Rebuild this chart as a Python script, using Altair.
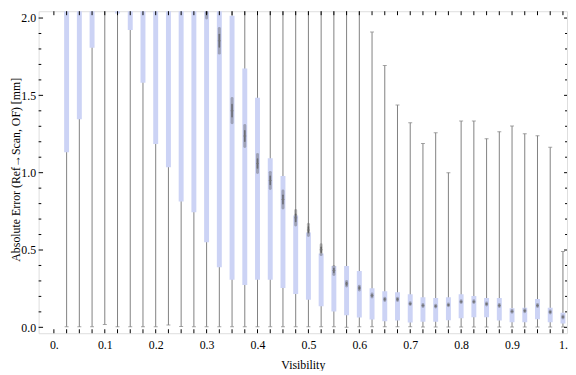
import altair as alt
import pandas as pd

# ---- data ----
visibility = [0.025, 0.05, 0.075, 0.1, 0.125, 0.15, 0.175, 0.2, 0.225, 0.25,
              0.275, 0.3, 0.325, 0.35, 0.375, 0.4, 0.425, 0.45, 0.475, 0.5,
              0.525, 0.55, 0.575, 0.6, 0.625, 0.65, 0.675, 0.7, 0.725, 0.75,
              0.775, 0.8, 0.825, 0.85, 0.875, 0.9, 0.925, 0.95, 0.975, 1.0]
whisker_low = [0.004, 0.003, 0.004, 0.019, 0.003, 0.003, 0.003, 0.004, 0.015, 0.005,
               0.004, 0.004, 0.004, 0.004, 0.004, 0.004, 0.004, 0.004, 0.004, 0.004,
               0.004, 0.004, 0.0, 0.004, 0.003, 0.003, 0.003, 0.003, 0.002, 0.002,
               0.002, 0.002, 0.002, 0.002, 0.002, 0.002, 0.002, 0.002, 0.002, 0.002]
q1 = [1.132, 1.346, 1.808, 2.10, 2.03, 1.922, 1.582, 1.185, 1.035, 0.813,
      0.744, 0.550, 0.389, 0.307, 0.273, 0.307, 0.307, 0.254, 0.216, 0.178,
      0.137, 0.103, 0.078, 0.063, 0.050, 0.040, 0.044, 0.032, 0.036, 0.036,
      0.046, 0.059, 0.065, 0.065, 0.044, 0.033, 0.033, 0.052, 0.033, 0.025]
median = [2.40, 2.45, 2.50, 2.60, 2.50, 2.40, 2.35, 2.30, 2.25, 2.20,
          2.15, 2.06, 1.853, 1.401, 1.237, 1.059, 0.950, 0.827, 0.708, 0.630,
          0.502, 0.367, 0.282, 0.254, 0.206, 0.181, 0.181, 0.153, 0.141, 0.137,
          0.145, 0.166, 0.166, 0.151, 0.141, 0.103, 0.107, 0.141, 0.099, 0.067]
q3 = [2.70, 2.75, 2.80, 2.90, 2.80, 2.70, 2.65, 2.60, 2.55, 2.50,
      2.45, 2.35, 2.20, 2.015, 1.674, 1.485, 1.094, 0.979, 0.723, 0.613,
      0.477, 0.397, 0.397, 0.365, 0.252, 0.233, 0.227, 0.214, 0.195, 0.189,
      0.195, 0.214, 0.202, 0.189, 0.189, 0.124, 0.126, 0.183, 0.126, 0.095]
whisker_high = [3.0, 3.0, 3.0, 3.0, 3.0, 3.0, 3.0, 3.0, 3.0, 3.0,
                3.0, 3.0, 3.0, 3.0, 3.0, 3.0, 3.0, 3.0, 3.0, 3.0,
                2.9, 2.8, 2.6, 2.3, 1.909, 1.693, 1.437, 1.323, 1.189, 1.258,
                1.000, 1.334, 1.334, 1.220, 1.265, 1.302, 1.252, 1.239, 1.164, 0.490]
notch = [0.08, 0.08, 0.08, 0.08, 0.08, 0.08, 0.08, 0.08, 0.08, 0.08,
         0.07, 0.06, 0.08, 0.078, 0.068, 0.058, 0.052, 0.055, 0.047, 0.037,
         0.032, 0.026, 0.015, 0.012, 0.010, 0.007, 0.007, 0.006, 0.006, 0.006,
         0.006, 0.006, 0.006, 0.006, 0.006, 0.006, 0.006, 0.006, 0.006, 0.006]

x_tick_values = [0.0, 0.025, 0.05, 0.075, 0.1, 0.125, 0.15, 0.175, 0.2, 0.225,
                 0.25, 0.275, 0.3, 0.325, 0.35, 0.375, 0.4, 0.425, 0.45, 0.475,
                 0.5, 0.525, 0.55, 0.575, 0.6, 0.625, 0.65, 0.675, 0.7, 0.725,
                 0.75, 0.775, 0.8, 0.825, 0.85, 0.875, 0.9, 0.925, 0.95, 0.975, 1.0]
x_label_values = [0.0, 0.1, 0.2, 0.3, 0.4, 0.5, 0.6, 0.7, 0.8, 0.9, 1.0]
y_major_values = [0.0, 0.5, 1.0, 1.5, 2.0]
y_minor_values = [0.1, 0.2, 0.3, 0.4, 0.6, 0.7, 0.8, 0.9, 1.1, 1.2, 1.3, 1.4,
                  1.6, 1.7, 1.8, 1.9]

df = pd.DataFrame({
    "vis": visibility, "lo": whisker_low, "q1": q1, "med": median,
    "q3": q3, "hi": whisker_high, "notch": notch,
})
xt = pd.DataFrame({"vis": x_tick_values})
ymaj = pd.DataFrame({"err": y_major_values})
ymin = pd.DataFrame({"err": y_minor_values})

W, H = 535, 326
FONT = "Liberation Serif"
GRAY = "#808080"
BOX = "#ccd3f5"

xscale = alt.Scale(domain=[-0.03, 1.008], nice=False, zero=False)
yscale = alt.Scale(domain=[-0.038, 2.044], nice=False, zero=False)

xaxis = alt.Axis(
    title="Visibility", values=x_label_values, ticks=False, tickSize=0, domain=False,
    grid=False, labelFont=FONT, labelFontSize=12, labelColor="black", labelPadding=6,
    labelExpr="datum.value == 0 ? '0.' : (datum.value == 1 ? '1.' : format(datum.value, '.1f'))",
    titleFont=FONT, titleFontSize=12, titleFontWeight="normal", titleColor="black",
    titleY=32, titleBaseline="middle",
)
yaxis = alt.Axis(
    title="Absolute Error (Ref\u2192Scan, OF) [mm]", values=y_major_values, ticks=False,
    tickSize=0, domain=False, grid=False, labelFont=FONT, labelFontSize=12,
    labelColor="black", labelPadding=3, format=".1f",
    titleFont=FONT, titleFontSize=12, titleFontWeight="normal", titleColor="black",
    titleX=-23, titleY=H / 2 - 3, titleBaseline="middle",
)

base = alt.Chart(df)

whisk = base.mark_rule(color=GRAY, strokeWidth=1, clip=True).encode(
    x=alt.X("vis:Q", scale=xscale, axis=xaxis),
    y=alt.Y("lo:Q", scale=yscale, axis=yaxis),
    y2="hi:Q",
)
cap_lo = base.mark_tick(orient="horizontal", size=4, thickness=1, color=GRAY, clip=True).encode(
    x=alt.X("vis:Q", scale=xscale), y=alt.Y("lo:Q", scale=yscale))
cap_hi = base.mark_tick(orient="horizontal", size=4, thickness=1, color=GRAY, clip=True).encode(
    x=alt.X("vis:Q", scale=xscale), y=alt.Y("hi:Q", scale=yscale))
boxes = base.mark_rule(color=BOX, strokeWidth=5, strokeCap="butt", clip=True).encode(
    x=alt.X("vis:Q", scale=xscale), y=alt.Y("q1:Q", scale=yscale), y2="q3:Q")

blob_outer = base.transform_calculate(
    a="datum.med - datum.notch", b="datum.med + datum.notch"
).mark_rule(color="#5a5a5a", strokeWidth=3, opacity=0.4, strokeCap="round", clip=True).encode(
    x=alt.X("vis:Q", scale=xscale), y=alt.Y("a:Q", scale=yscale), y2="b:Q")
blob_inner = base.transform_calculate(
    a="datum.med - datum.notch * 0.5", b="datum.med + datum.notch * 0.5"
).mark_rule(color="#4a4a4a", strokeWidth=1.6, opacity=0.6, strokeCap="round", clip=True).encode(
    x=alt.X("vis:Q", scale=xscale), y=alt.Y("a:Q", scale=yscale), y2="b:Q")
med_tick = base.mark_tick(orient="horizontal", size=3, thickness=1, color="#777777",
                          opacity=0.7, clip=True).encode(
    x=alt.X("vis:Q", scale=xscale), y=alt.Y("med:Q", scale=yscale))

# frame ticks (pointing inward)
xt_bottom = alt.Chart(xt).mark_rule(color="black", strokeWidth=1).encode(
    x=alt.X("vis:Q", scale=xscale), y=alt.value(H), y2=alt.value(H - 4))
xt_top = alt.Chart(xt).mark_rule(color="black", strokeWidth=1).encode(
    x=alt.X("vis:Q", scale=xscale), y=alt.value(0), y2=alt.value(4))
yl_major = alt.Chart(ymaj).mark_rule(color="black", strokeWidth=1).encode(
    y=alt.Y("err:Q", scale=yscale), x=alt.value(0), x2=alt.value(4.5))
yl_minor = alt.Chart(ymin).mark_rule(color="black", strokeWidth=1).encode(
    y=alt.Y("err:Q", scale=yscale), x=alt.value(0), x2=alt.value(2.7))
yr_major = alt.Chart(ymaj).mark_rule(color="black", strokeWidth=1).encode(
    y=alt.Y("err:Q", scale=yscale), x=alt.value(W), x2=alt.value(W - 3))
yr_minor = alt.Chart(ymin).mark_rule(color="black", strokeWidth=1).encode(
    y=alt.Y("err:Q", scale=yscale), x=alt.value(W), x2=alt.value(W - 2))

chart = alt.layer(
    whisk, cap_lo, cap_hi, boxes, blob_outer, blob_inner, med_tick,
    xt_bottom, xt_top, yl_major, yl_minor, yr_major, yr_minor,
).properties(
    width=W, height=H,
    autosize=alt.AutoSizeParams(type="none"),
    padding={"left": 31, "top": 1, "right": 1, "bottom": 36},
).configure_view(
    stroke="black", strokeWidth=1,
).configure(background="white")

chart.save("out.html", embed_options={"renderer": "svg", "actions": False})
